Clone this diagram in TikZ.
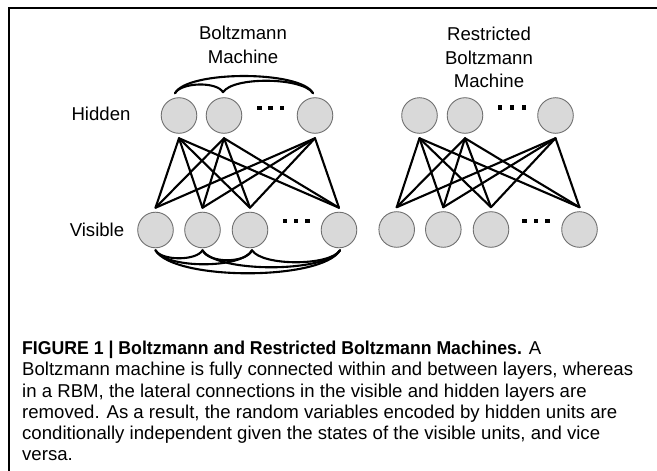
\documentclass[tikz,border=0pt]{standalone}
\usepackage{fontspec}
\setmainfont{Liberation Sans}[BoldFeatures={FakeStretch=0.95}]
\usetikzlibrary{calc}
\definecolor{circgray}{HTML}{707070}
\definecolor{circfill}{HTML}{D9D9D9}
\begin{document}
\begin{tikzpicture}[x=1pt,y=-1pt,
  unit/.style={circle, draw=circgray, fill=circfill, line width=0.9pt, minimum size=35.6pt, inner sep=0pt},
  conn/.style={line width=2.1pt, black, line cap=round},
  lat/.style={line width=2.1pt, black, line cap=round},
  dotsq/.style={fill=black},
  lbl/.style={font=\fontsize{18.6}{23.3}\selectfont, inner sep=0pt, align=center},
  captxt/.style={font=\fontsize{18.6}{21.2}\selectfont, inner sep=0pt, align=left, anchor=north west}
]
\useasboundingbox (0,0) rectangle (657,471);
% frame
\draw[line width=2pt] (9,471) -- (9,7.7) -- (657,7.7);

% ---------- Boltzmann machine ----------
\node[lbl] (bmtitle) at (243,45) {Boltzmann\\Machine};
\node[lbl] (hidlbl) at (101,113.5) {Hidden};
\node[lbl] (vislbl) at (97,230) {Visible};

\node[unit] (bh1) at (179,115.5) {};
\node[unit] (bh2) at (224,115.5) {};
\node[unit] (bh3) at (315,115.5) {};
\node[unit] (bv1) at (155.5,230) {};
\node[unit] (bv2) at (202.5,230) {};
\node[unit] (bv3) at (250,230) {};
\node[unit] (bv4) at (339,230) {};

\foreach \n in {bh1,bh2,bh3} \coordinate (\n-s) at ($(\n.south)+(0,4.5)$);
\foreach \n in {bv1,bv2,bv3,bv4} \coordinate (\n-n) at ($(\n.north)+(0,-4)$);
\foreach \h in {bh1,bh2,bh3}
  \foreach \v in {bv1,bv2,bv3,bv4}
    \draw[conn] (\h-s) -- (\v-n);

% lateral arcs, hidden
\coordinate (bt1) at ($(bh1.north)+(-4,-4)$);
\coordinate (bt2) at ($(bh2.north)+(-1,-5)$);
\coordinate (bt3) at ($(bh3.north)+(-2,-4)$);
\draw[lat] (bt1) .. controls ($(bt1)+(12,-23)$) and ($(bt3)+(-12,-23)$) .. (bt3);
\draw[lat] (bt1) .. controls ($(bt1)+(6,-11)$) and ($(bt2)+(-6,-11)$) .. (bt2);
\draw[lat] (bt2) .. controls ($(bt2)+(10,-16)$) and ($(bt3)+(-10,-16)$) .. (bt3);

% lateral arcs, visible
\coordinate (bb1) at ($(bv1.south)+(0,2)$);
\coordinate (bb2) at ($(bv2.south)+(0,2)$);
\coordinate (bb3) at ($(bv3.south)+(2,2)$);
\coordinate (bb4) at ($(bv4.south)+(1,2)$);
\draw[lat] (bb1) .. controls ($(bb1)+(6,10.7)$) and ($(bb2)+(-6,10.7)$) .. (bb2);
\draw[lat] (bb2) .. controls ($(bb2)+(6,13.3)$) and ($(bb3)+(-6,13.3)$) .. (bb3);
\draw[lat] (bb3) .. controls ($(bb3)+(10,16)$) and ($(bb4)+(-10,16)$) .. (bb4);
\draw[lat] (bb1) .. controls ($(bb1)+(10,18.7)$) and ($(bb3)+(-10,18.7)$) .. (bb3);
\draw[lat] (bb2) .. controls ($(bb2)+(14,22.7)$) and ($(bb4)+(-14,22.7)$) .. (bb4);
\draw[lat] (bb1) .. controls ($(bb1)+(18,30.7)$) and ($(bb4)+(-18,30.7)$) .. (bb4);

% ellipsis squares
\foreach \x in {259.5,270.5,282} \fill[dotsq] (\x-2.3,108-2.3) rectangle (\x+2.3,108+2.3);
\foreach \x in {285,296,307.5} \fill[dotsq] (\x-2.3,221-2.3) rectangle (\x+2.3,221+2.3);

% ---------- Restricted Boltzmann machine ----------
\node[lbl] (rbmtitle) at (489,57.5) {Restricted\\Boltzmann\\Machine};

\node[unit] (rh1) at (419.5,115.5) {};
\node[unit] (rh2) at (465,115.5) {};
\node[unit] (rh3) at (555.5,115.5) {};
\node[unit] (rv1) at (396.7,229.5) {};
\node[unit] (rv2) at (443.3,229.5) {};
\node[unit] (rv3) at (491,229.5) {};
\node[unit] (rv4) at (579.5,229.5) {};

\foreach \n in {rh1,rh2,rh3} \coordinate (\n-s) at ($(\n.south)+(0,4.5)$);
\foreach \n in {rv1,rv2,rv3,rv4} \coordinate (\n-n) at ($(\n.north)+(0,-4)$);
\foreach \h in {rh1,rh2,rh3}
  \foreach \v in {rv1,rv2,rv3,rv4}
    \draw[conn] (\h-s) -- (\v-n);

\foreach \x in {500,512,524} \fill[dotsq] (\x-2.3,107.5-2.3) rectangle (\x+2.3,107.5+2.3);
\foreach \x in {524.5,536,547.5} \fill[dotsq] (\x-2.3,221-2.3) rectangle (\x+2.3,221+2.3);

% ---------- caption ----------
\node[captxt] (caption) at (22,341) {{\bfseries FIGURE 1 | Boltzmann and Restricted Boltzmann Machines.} A\\
Boltzmann machine is fully connected within and between layers, whereas\\
in a RBM, the lateral connections in the visible and hidden layers are\\
removed. As a result, the random variables encoded by hidden units are\\
conditionally independent given the states of the visible units, and vice\\
versa.};
\end{tikzpicture}
\end{document}
